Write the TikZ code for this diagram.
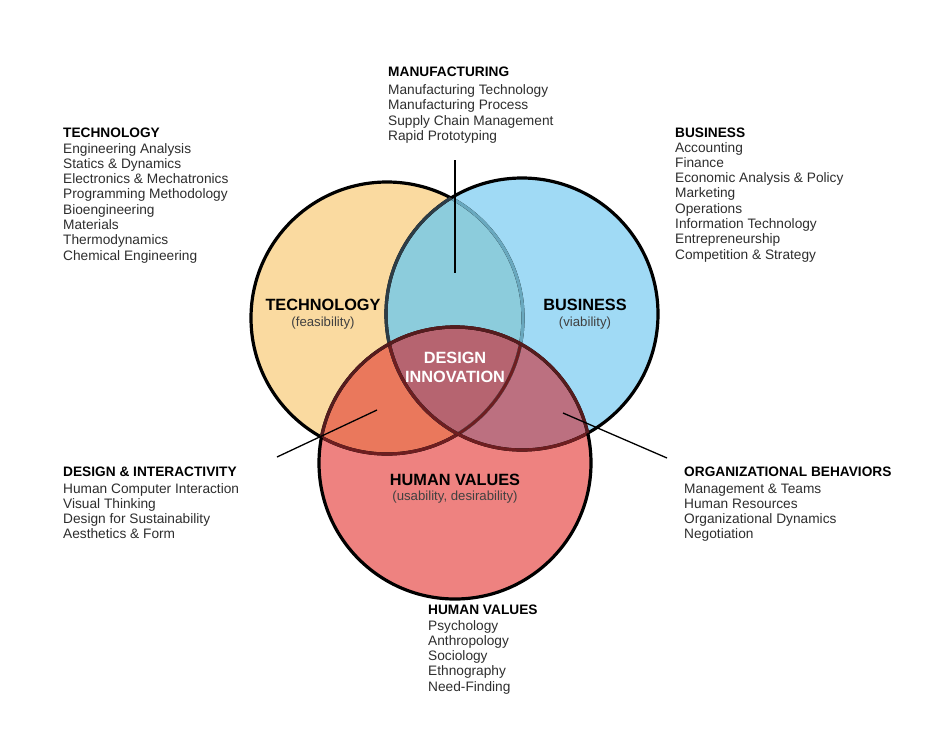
\documentclass[tikz,border=0pt]{standalone}
\usepackage{fontspec}
\setmainfont{Liberation Sans}
\usetikzlibrary{positioning}

\begin{document}
\begin{tikzpicture}[
            x=1pt,y=-1pt,
            rim/.style={line width=3.2pt},
            leader/.style={line width=1.3pt},
            listblock/.style={anchor=north west,inner sep=0pt,align=left,text=black!82,
                font=\fontsize{13.7}{15.3}\selectfont},
            ringlabel/.style={inner sep=0pt,anchor=base,font=\bfseries\fontsize{16.3}{18}\selectfont},
            ringsub/.style={inner sep=0pt,anchor=base,text=black!75,font=\fontsize{13.2}{15}\selectfont}
        ]
            \definecolor{techfill}{RGB}{250,218,160}
            \definecolor{busfill}{RGB}{160,218,245}
            \definecolor{humfill}{RGB}{238,130,128}
            \definecolor{tbfill}{RGB}{140,204,220}
            \definecolor{thfill}{RGB}{234,120,92}
            \definecolor{bhfill}{RGB}{188,112,128}
            \definecolor{allfill}{RGB}{182,100,112}
            \definecolor{techunder}{RGB}{105,168,190}
            \definecolor{busover}{RGB}{45,60,70}
            \definecolor{redrim}{RGB}{110,30,32}
            \definecolor{humover}{RGB}{85,28,30}
            \def\rr{136pt}

            \fill[white] (0,0) rectangle (934,740);
            \useasboundingbox (0,0) rectangle (934,740);

            \coordinate (T) at (387,318);
            \coordinate (B) at (522,314);
            \coordinate (H) at (455,463);

            % region fills
            \fill[techfill] (T) circle[radius=\rr];
            \fill[busfill]  (B) circle[radius=\rr];
            \fill[humfill]  (H) circle[radius=\rr];
            \begin{scope}
                \clip (T) circle[radius=\rr];
                \fill[tbfill] (B) circle[radius=\rr];
                \fill[thfill] (H) circle[radius=\rr];
            \end{scope}
            \begin{scope}
                \clip (B) circle[radius=\rr];
                \fill[bhfill] (H) circle[radius=\rr];
            \end{scope}
            \begin{scope}
                \clip (T) circle[radius=\rr];
                \clip (B) circle[radius=\rr];
                \fill[allfill] (H) circle[radius=\rr];
            \end{scope}

            % rims
            \draw[rim] (T) circle[radius=\rr];
            \begin{scope}
                \clip (B) circle[radius=\rr];
                \draw[rim,techunder] (T) circle[radius=\rr];
            \end{scope}
            \begin{scope}
                \clip (H) circle[radius=\rr];
                \draw[rim,redrim] (T) circle[radius=\rr];
            \end{scope}
            \draw[rim] (B) circle[radius=\rr];
            \begin{scope}
                \clip (T) circle[radius=\rr];
                \draw[rim,busover] (B) circle[radius=\rr];
            \end{scope}
            \begin{scope}
                \clip (H) circle[radius=\rr];
                \draw[rim,redrim] (B) circle[radius=\rr];
            \end{scope}
            \draw[rim] (H) circle[radius=\rr];
            \begin{scope}
                \clip (T) circle[radius=\rr];
                \draw[rim,humover] (H) circle[radius=\rr];
            \end{scope}
            \begin{scope}
                \clip (B) circle[radius=\rr];
                \draw[rim,humover] (H) circle[radius=\rr];
            \end{scope}

            % ring labels
            \node (techname) [ringlabel] at (323,310) {TECHNOLOGY};
            \node (techsub)  [ringsub]   at (323,326) {(feasibility)};
            \node (busname)  [ringlabel] at (585,310) {BUSINESS};
            \node (bussub)   [ringsub]   at (585,326) {(viability)};
            \node (design)   [ringlabel,white] at (455,363) {DESIGN};
            \node (innov)    [ringlabel,white] at (455,382) {INNOVATION};
            \node (humname)  [ringlabel] at (455,485) {HUMAN VALUES};
            \node (humsub)   [ringsub]   at (455,500) {(usability, desirability)};

            % course lists
            \node (mfglist) [listblock] at (388,67) {\textbf{\color{black}MANUFACTURING}\\[2.5pt]
                Manufacturing Technology\\ Manufacturing Process\\ Supply Chain Management\\ Rapid Prototyping};
            \node (techlist) [listblock] at (63,128) {\textbf{\color{black}TECHNOLOGY}\\
                Engineering Analysis\\ Statics \& Dynamics\\ Electronics \& Mechatronics\\
                Programming Methodology\\ Bioengineering\\ Materials\\ Thermodynamics\\ Chemical Engineering};
            \node (buslist) [listblock] at (675,128) {\textbf{\color{black}BUSINESS}\\[-1pt]
                Accounting\\ Finance\\ Economic Analysis \& Policy\\ Marketing\\ Operations\\
                Information Technology\\ Entrepreneurship\\ Competition \& Strategy};
            \node (dilist) [listblock] at (63,467) {\textbf{\color{black}DESIGN \& INTERACTIVITY}\\[1pt]
                Human Computer Interaction\\ Visual Thinking\\ Design for Sustainability\\ Aesthetics \& Form};
            \node (orglist) [listblock] at (684,467) {\textbf{\color{black}ORGANIZATIONAL BEHAVIORS}\\[1pt]
                Management \& Teams\\ Human Resources\\ Organizational Dynamics\\ Negotiation};
            \node (humlist) [listblock] at (428,605) {\textbf{\color{black}HUMAN VALUES}\\
                Psychology\\ Anthropology\\ Sociology\\ Ethnography\\ Need-Finding};

            % leader lines
            \coordinate (mfgtop) at (455,160);
            \coordinate (mfgend) at (455,273);
            \coordinate (ditail) at (277,457);
            \coordinate (diend)  at (377,410);
            \coordinate (orgend) at (563,413);
            \coordinate (orgtail) at (667,458);
            \draw[leader] (mfgtop) -- (mfgend);
            \draw[leader] (ditail) -- (diend);
            \draw[leader] (orgend) -- (orgtail);
        \end{tikzpicture}
\end{document}
